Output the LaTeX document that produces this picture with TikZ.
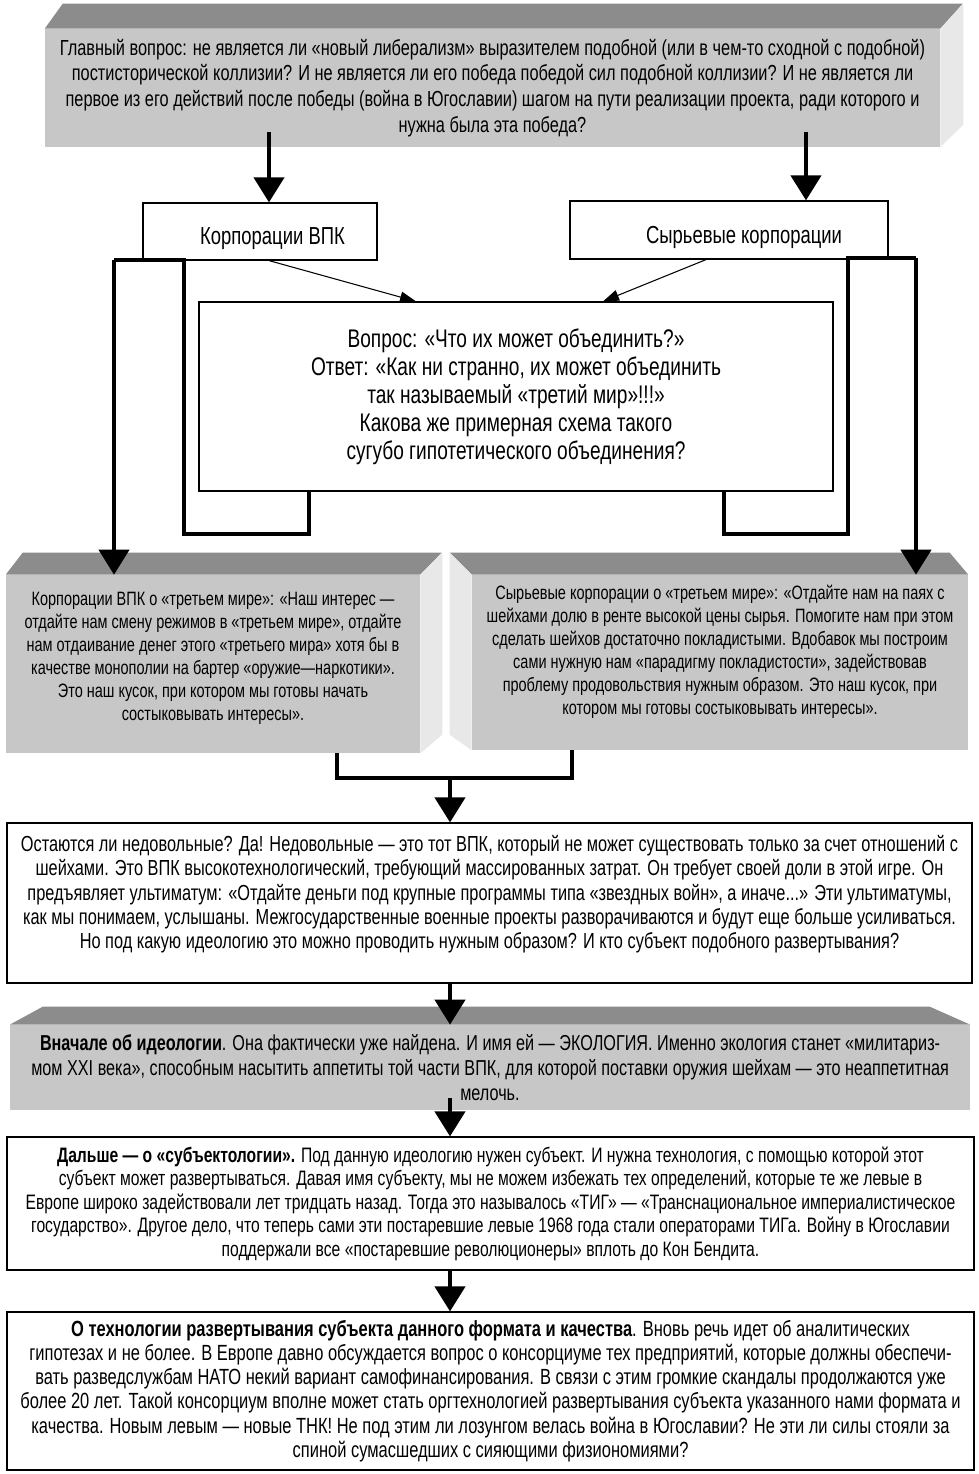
\documentclass[tikz,border=0pt]{standalone}
\usepackage{fontspec}
\setmainfont{Liberation Sans}[FakeStretch=0.75]
\usepackage{tikz}
\usetikzlibrary{arrows.meta,positioning,calc}

\begin{document}
\begin{tikzpicture}[
    x=0.02cm, y=-0.02cm,
    whitebox/.style={draw, line width=0.7pt, fill=white, inner sep=0pt, align=center},
    graybox/.style={fill=black!22, inner sep=0pt, align=center},
    bevel/.style={fill=black!45},
    sideface/.style={fill=black!9},
    pipe/.style={line width=2.4pt},
    bigarrow/.style={line width=2.4pt, -{Triangle[width=0.6cm,length=0.5cm]}},
    thinarrow/.style={line width=0.6pt, -{Triangle[width=0.22cm,length=0.32cm]}}
]
\useasboundingbox (0,0) rectangle (978,1474);

% главный вопрос
\node[graybox, minimum width=17.9cm, minimum height=2.36cm,
      font=\fontsize{12.4}{14.7}\selectfont] (q) at (492.5,88)
 {Главный вопрос: не является ли «новый либерализм» выразителем подобной (или в чем-то сходной с подобной)\\
  постисторической коллизии? И не является ли его победа победой сил подобной коллизии? И не является ли\\
  первое из его действий после победы (война в Югославии) шагом на пути реализации проекта, ради которого и\\
  нужна была эта победа?};
\fill[bevel] (q.north west) -- ++(18,-25) -- ++(900,0) -- (q.north east) -- cycle;
\fill[sideface] (q.north east) -- ++(23,-25) -- ++(0,121) -- (q.south east) -- cycle;

% две группы корпораций
\node[whitebox, minimum width=4.68cm, minimum height=1.14cm,
      font=\fontsize{14}{16}\selectfont] (vpk) at (260,231.5)
 {\raisebox{-4pt}[10pt][3pt]{\hspace*{0.5cm}Корпорации ВПК}};
\node[whitebox, minimum width=6.36cm, minimum height=1.16cm,
      font=\fontsize{14}{16}\selectfont] (raw) at (729,230)
 {\raisebox{-4pt}[10pt][3pt]{\hspace*{0.6cm}Сырьевые корпорации}};

% вопрос об объединении
\node[whitebox, minimum width=12.68cm, minimum height=3.78cm,
      font=\fontsize{14.5}{15.9}\selectfont] (ask) at (516,396.5)
 {Вопрос: «Что их может объединить?»\\
  Ответ: «Как ни странно, их может объединить\\
  так называемый «третий мир»!!!»\\
  Какова же примерная схема такого\\
  сугубо гипотетического объединения?};

% позиции корпораций
\node[graybox, minimum width=8.28cm, minimum height=3.56cm,
      font=\fontsize{11}{13}\selectfont] (vpkview) at (213,664)
 {Корпорации ВПК о «третьем мире»: «Наш интерес —\\
  отдайте нам смену режимов в «третьем мире», отдайте\\
  нам отдаивание денег этого «третьего мира» хотя бы в\\
  качестве монополии на бартер «оружие—наркотики».\\
  Это наш кусок, при котором мы готовы начать\\
  состыковывать интересы».\\[-0.15cm]};
\fill[bevel] (vpkview.north west) -- ++(17,-22) -- ++(419,0) -- (vpkview.north east) -- cycle;
\fill[sideface] (vpkview.north east) -- ++(22,-22) -- ++(0,182) -- (vpkview.south east) -- cycle;

\node[graybox, minimum width=9.92cm, minimum height=3.5cm,
      font=\fontsize{11}{13}\selectfont] (rawview) at (720,662.5)
 {Сырьевые корпорации о «третьем мире»: «Отдайте нам на паях с\\
  шейхами долю в ренте высокой цены сырья. Помогите нам при этом\\
  сделать шейхов достаточно покладистыми. Вдобавок мы построим\\
  сами нужную нам «парадигму покладистости», задействовав\\
  проблему продовольствия нужным образом. Это наш кусок, при\\
  котором мы готовы состыковывать интересы».\\[0.05cm]};
\fill[bevel] (rawview.north west) -- ++(-22,-22) -- ++(500,0) -- (rawview.north east) -- cycle;
\fill[sideface] (rawview.north west) -- ++(-22,-22) -- ++(0,182) -- (rawview.south west) -- cycle;

% недовольные
\node[whitebox, minimum width=19.3cm, minimum height=3.2cm,
      font=\fontsize{12.4}{13.9}\selectfont] (unhappy) at (489.5,903)
 {Остаются ли недовольные? Да! Недовольные — это тот ВПК, который не может существовать только за счет отношений с\\
  шейхами. Это ВПК высокотехнологический, требующий массированных затрат. Он требует своей доли в этой игре. Он\\
  предъявляет ультиматум: «Отдайте деньги под крупные программы типа «звездных войн», а иначе...» Эти ультиматумы,\\
  как мы понимаем, услышаны. Межгосударственные военные проекты разворачиваются и будут еще больше усиливаться.\\
  Но под какую идеологию это можно проводить нужным образом? И кто субъект подобного развертывания?\\[-0.05cm]};

% идеология
\node[graybox, minimum width=19.2cm, minimum height=1.7cm,
      font=\fontsize{12.3}{14.2}\selectfont] (ideo) at (490,1067.5)
 {\textbf{Вначале об идеологии}. Она фактически уже найдена. И имя ей — ЭКОЛОГИЯ. Именно экология станет «милитариз-\\
  мом XXI века», способным насытить аппетиты той части ВПК, для которой поставки оружия шейхам — это неаппетитная\\
  мелочь.};
\fill[bevel] (ideo.north west) -- ++(33,-18) -- ++(887,0) -- (ideo.north east) -- cycle;

% субъект
\node[whitebox, minimum width=19.34cm, minimum height=2.66cm,
      font=\fontsize{11.9}{13.4}\selectfont] (subj) at (490.5,1203.5)
 {\textbf{Дальше — о «субъектологии».} Под данную идеологию нужен субъект. И нужна технология, с помощью которой этот\\
  субъект может развертываться. Давая имя субъекту, мы не можем избежать тех определений, которые те же левые в\\
  Европе широко задействовали лет тридцать назад. Тогда это называлось «ТИГ» — «Транснациональное империалистическое\\
  государство». Другое дело, что теперь сами эти постаревшие левые 1968 года стали операторами ТИГа. Войну в Югославии\\
  поддержали все «постаревшие революционеры» вплоть до Кон Бендита.};

% технология
\node[whitebox, minimum width=19.34cm, minimum height=3.16cm,
      font=\fontsize{12.5}{13.8}\selectfont] (tech) at (490.5,1391)
 {\textbf{О технологии развертывания субъекта данного формата и качества}. Вновь речь идет об аналитических\\
  гипотезах и не более. В Европе давно обсуждается вопрос о консорциуме тех предприятий, которые должны обеспечи-\\
  вать разведслужбам НАТО некий вариант самофинансирования. В связи с этим громкие скандалы продолжаются уже\\
  более 20 лет. Такой консорциум вполне может стать оргтехнологией развертывания субъекта указанного нами формата и\\
  качества. Новым левым — новые ТНК! Не под этим ли лозунгом велась война в Югославии? Не эти ли силы стояли за\\
  спиной сумасшедших с сияющими физиономиями?};

% стрелки сверху
\draw[bigarrow] ([xshift=0.18cm,yshift=0.3cm]vpk.north |- q.south) -- ([xshift=0.18cm]vpk.north);
\draw[bigarrow] ([xshift=1.54cm,yshift=0.3cm]raw.north |- q.south) -- ([xshift=1.54cm]raw.north);
\draw[thinarrow] ([xshift=0.18cm]vpk.south) -- ([xshift=-2cm]ask.north);
\draw[thinarrow] ([xshift=-0.46cm]raw.south) -- ([xshift=1.74cm]ask.north);

% обходные линии
\coordinate (lbend) at (184,534);
\coordinate (ltop) at (114,260);
\coordinate (rbend) at (848,534);
\coordinate (rtop) at (916,258);
\draw[pipe] ([xshift=-4.14cm]ask.south) |- (lbend) |- (ltop);
\draw[bigarrow] (ltop) -- (ltop |- vpkview.north);
\draw[pipe] ([xshift=4.16cm]ask.south) |- (rbend) |- (rtop);
\draw[bigarrow] (rtop) -- (rtop |- rawview.north);

% слияние и цепочка вниз
\coordinate (join) at (450,778);
\draw[pipe] ([xshift=2.48cm]vpkview.south) |- (join) -| ([xshift=-2.96cm]rawview.south);
\draw[bigarrow] (join) -- (join |- unhappy.north);
\draw[bigarrow] (join |- unhappy.south) -- (join |- ideo.north);
\draw[bigarrow] ([yshift=0.24cm]join |- ideo.south) -- (join |- subj.north);
\draw[bigarrow] (join |- subj.south) -- (join |- tech.north);

\end{tikzpicture}
\end{document}
